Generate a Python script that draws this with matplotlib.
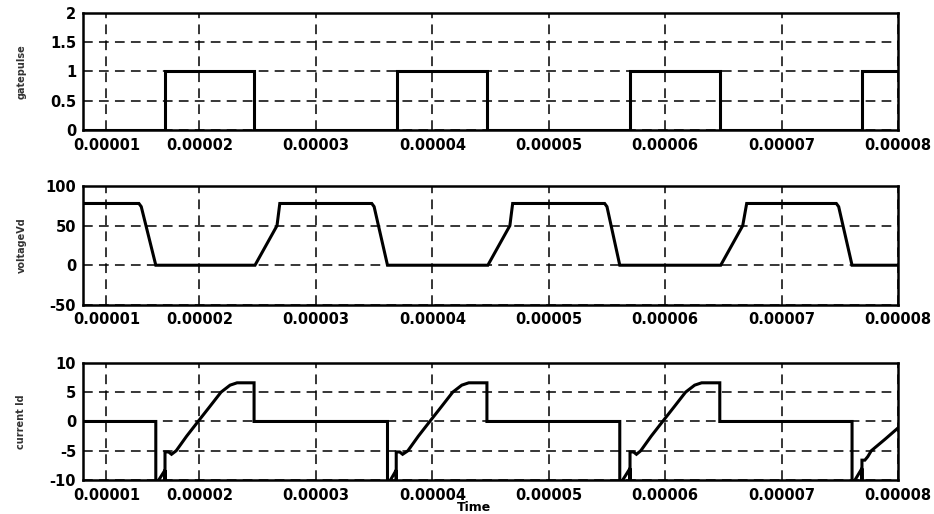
import matplotlib
matplotlib.use("Agg")
import matplotlib.pyplot as plt
import numpy as np
from matplotlib.ticker import FormatStrFormatter

plt.rcParams["font.family"] = "DejaVu Sans"
plt.rcParams["font.weight"] = "bold"
plt.rcParams["lines.scale_dashes"] = False

# ---------- waveforms (time in units of 1e-5 s) ----------
gate_t = [1.00, 1.704, 1.704, 2.469, 2.469, 3.700, 3.700, 4.469, 4.469,
          5.698, 5.698, 6.469, 6.469, 7.690, 7.690, 8.00]
gate_v = [0, 0, 1, 1, 0, 0, 1, 1, 0, 0, 1, 1, 0, 0, 1, 1]

vd_t = [1.00, 1.48, 1.50, 1.625, 2.477, 2.666, 2.690,
        3.48, 3.50, 3.615, 4.477, 4.666, 4.690,
        5.48, 5.50, 5.610, 6.477, 6.666, 6.700,
        7.47, 7.49, 7.605, 8.00]
vd_v = [78, 78, 74, 0, 0, 50, 78,
        78, 74, 0, 0, 50, 78,
        78, 74, 0, 0, 50, 78,
        78, 74, 0, 0]

id_t = [1.00, 1.625, 1.625, 1.650, 1.704, 1.704, 1.704, 1.735, 1.760,
        1.800, 1.890, 1.988, 2.087, 2.185, 2.263, 2.323, 2.469, 2.469,
        3.615, 3.615, 3.640, 3.690, 3.690, 3.690, 3.720, 3.745,
        3.790, 3.880, 3.978, 4.077, 4.175, 4.253, 4.313, 4.469, 4.469,
        5.610, 5.610, 5.635, 5.698, 5.698, 5.698, 5.728, 5.753,
        5.790, 5.880, 5.978, 6.077, 6.175, 6.253, 6.313, 6.469, 6.469,
        7.605, 7.605, 7.630, 7.690, 7.690, 7.690, 7.715, 7.740,
        7.770, 7.890, 8.00]
id_v = [0, 0, -11, -10, -8.3, -10.5, -5.2, -5.2, -5.6,
        -5.0, -2.5, 0, 2.5, 5.0, 6.2, 6.6, 6.6, 0,
        0, -11, -10, -8.3, -10.5, -5.2, -5.2, -5.6,
        -5.0, -2.5, 0, 2.5, 5.0, 6.2, 6.6, 6.6, 0,
        0, -11, -10, -8.0, -10.5, -5.2, -5.2, -5.6,
        -5.0, -2.5, 0, 2.5, 5.0, 6.2, 6.6, 6.6, 0,
        0, -11, -10, -8.0, -10.5, -6.6, -6.6, -6.0,
        -5.0, -3.0, -1.1]

# ---------- axis ticks ----------
xtick_pos = [1.2, 2, 3, 4, 5, 6, 7, 8]
xtick_labels = ["0.00001", "0.00002", "0.00003", "0.00004",
                "0.00005", "0.00006", "0.00007", "0.00008"]

panels = [
    ("gatepulse", gate_t, gate_v, (0, 2), [0, 0.5, 1, 1.5, 2]),
    ("voltageVd", vd_t, vd_v, (-50, 100), [-50, 0, 50, 100]),
    ("current Id", id_t, id_v, (-10, 10), [-10, -5, 0, 5, 10]),
]

# left, bottom, width, height for each panel
positions = [
    [0.0889, 0.747, 0.8726, 0.228],
    [0.0889, 0.407, 0.8726, 0.231],
    [0.0889, 0.066, 0.8726, 0.228],
]

fig = plt.figure(figsize=(9.34, 5.14), dpi=100, facecolor="white")

for (name, t, v, ylim, yticks), pos in zip(panels, positions):
    ax = fig.add_axes(pos)
    ax.plot(np.array(t) * 1e-5, v, color="black", lw=2.2,
            solid_joinstyle="miter")
    ax.set_xlim(1e-5, 8e-5)
    ax.set_ylim(*ylim)
    ax.set_yticks(yticks)
    ax.yaxis.set_major_formatter(FormatStrFormatter("%g"))
    ax.set_xticks(np.array(xtick_pos) * 1e-5)
    ax.set_xticklabels(xtick_labels)
    ax.tick_params(length=0, labelsize=10.5)
    ax.tick_params(axis="x", pad=5.5)
    ax.tick_params(axis="y", pad=5)
    ax.grid(True, color="black", lw=1.1, linestyle=(0, (7, 4.5)))
    for sp in ax.spines.values():
        sp.set_linewidth(1.8)
    y_mid = pos[1] + pos[3] / 2
    fig.text(0.023, y_mid, name, rotation=90, ha="center", va="center",
             fontsize=7, color="#333333")

fig.text(0.508, 0.012, "Time", ha="center", va="center", fontsize=9)

fig.savefig("out.png", dpi=100, facecolor="white")
